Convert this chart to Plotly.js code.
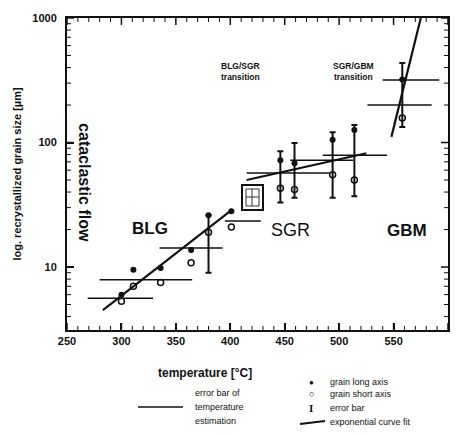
<!DOCTYPE html>
<html><head><meta charset="utf-8">
<script src="https://cdn.plot.ly/plotly-3.0.1.min.js"></script>
<style>html,body{margin:0;padding:0;background:#fff}</style>
</head><body><div id="c"></div>
<script>
// samples: temperature (°C), grain long axis, grain short axis (µm)
const sampleT   = [300, 311, 336, 364, 380, 401, 446, 459, 494, 514, 558];
const longAxis  = [6.0, 9.5, 9.8, 13.7, 26, 28, 72, 68, 105, 126, 320];
const shortAxis = [5.3, 7.0, 7.5, 10.8, 19, 21, 43, 42, 55, 50, 157];

// grain-size error bars
const errT  = [380, 446, 459, 494, 514, 558];
const errLo = [9, 33, 36, 36, 37, 133];
const errHi = [26, 85, 99, 121, 138, 435];

// temperature estimation error bars
const tbT  = [299, 322, 364, 411, 453, 484, 514, 566, 555];
const tbV  = [5.6, 7.9, 14.2, 23.4, 57, 72, 79, 318, 200];
const tbLo = [269, 280, 335, 395, 415, 455, 485, 540, 526];
const tbHi = [329, 365, 393, 428, 491, 513, 544, 592, 585];

// exponential curve fit segments
const fitBLG_T = [283, 402], fitBLG_V = [4.5, 29];
const fitSGR_T = [415, 525], fitSGR_V = [50, 82];
const fitGBM_T = [548, 575], fitGBM_V = [111, 1000];

// tick labels
const xTicks = [250, 300, 350, 400, 450, 500, 550, 600];
const yTicks = [10, 100, 1000];

const traces = [
  {x: tbT, y: tbV, mode: 'markers', marker: {size: 1, color: 'rgba(0,0,0,0)'},
   error_x: {type: 'data', symmetric: false,
     array: tbHi.map((h, i) => h - tbT[i]), arrayminus: tbLo.map((l, i) => tbT[i] - l),
     width: 0, thickness: 1.5, color: '#111'}, hoverinfo: 'skip'},
  {x: errT, y: errLo, mode: 'markers', marker: {size: 1, color: 'rgba(0,0,0,0)'},
   error_y: {type: 'data', symmetric: false,
     array: errHi.map((h, i) => h - errLo[i]), arrayminus: errLo.map(() => 0),
     width: 3, thickness: 2, color: '#111'}, hoverinfo: 'skip'},
  {x: fitBLG_T, y: fitBLG_V, mode: 'lines', line: {color: '#111', width: 2.2}},
  {x: fitSGR_T, y: fitSGR_V, mode: 'lines', line: {color: '#111', width: 2.2}},
  {x: fitGBM_T, y: fitGBM_V, mode: 'lines', line: {color: '#111', width: 2.2}},
  {x: sampleT, y: longAxis, mode: 'markers', marker: {symbol: 'circle', size: 6, color: '#111'}},
  {x: sampleT, y: shortAxis, mode: 'markers',
   marker: {symbol: 'circle-open', size: 6, color: '#111', line: {width: 1.5, color: '#111'}}}
];

const F = 'Liberation Sans, Arial, sans-serif';
const px = (x) => (x - 67) / 381, py = (y) => (330 - y) / 312;

const ann = [
  {x: 326, y: 1.313, text: '<b>BLG</b>', font: {size: 17}},
  {x: 455, y: 1.297, text: 'SGR', font: {size: 18}},
  {x: 562, y: 1.297, text: '<b>GBM</b>', font: {size: 17}},
  {x: 409, y: 2.574, text: '<b>BLG/SGR<br>transition</b>', font: {size: 8.5}},
  {x: 513, y: 2.574, text: '<b>SGR/GBM<br>transition</b>', font: {size: 8.5}},
  {x: 265.5, y: 1.675, text: '<b>cataclastic flow</b>', textangle: 90, font: {size: 16}},
  {xref: 'paper', yref: 'paper', x: px(205), y: py(373), text: '<b>temperature [°C]</b>', font: {size: 12}},
  {xref: 'paper', yref: 'paper', x: px(193), y: py(393), xanchor: 'left', text: 'error bar of', font: {size: 9}},
  {xref: 'paper', yref: 'paper', x: px(193), y: py(407), xanchor: 'left', text: 'temperature', font: {size: 9}},
  {xref: 'paper', yref: 'paper', x: px(193), y: py(421), xanchor: 'left', text: 'estimation', font: {size: 9}},
  {xref: 'paper', yref: 'paper', x: px(311), y: py(382), text: '●', font: {size: 8}},
  {xref: 'paper', yref: 'paper', x: px(311), y: py(394), text: '○', font: {size: 9}},
  {xref: 'paper', yref: 'paper', x: px(311), y: py(408), text: '<b>I</b>', font: {size: 11, family: 'Liberation Serif, serif'}},
  {xref: 'paper', yref: 'paper', x: px(328), y: py(382), xanchor: 'left', text: 'grain long axis', font: {size: 9}},
  {xref: 'paper', yref: 'paper', x: px(328), y: py(394), xanchor: 'left', text: 'grain short axis', font: {size: 9}},
  {xref: 'paper', yref: 'paper', x: px(328), y: py(408), xanchor: 'left', text: 'error bar', font: {size: 9}},
  {xref: 'paper', yref: 'paper', x: px(328), y: py(422), xanchor: 'left', text: 'exponential curve fit', font: {size: 9}}
].map(a => Object.assign({showarrow: false, xanchor: 'center', yanchor: 'middle'}, a,
      {font: Object.assign({family: F, color: '#111'}, a.font)}));

const shapes = [
  {type: 'line', xref: 'paper', yref: 'paper', x0: px(138), x1: px(183), y0: py(407), y1: py(407), line: {color: '#111', width: 1.5}},
  {type: 'line', xref: 'paper', yref: 'paper', x0: px(300), x1: px(325), y0: py(424), y1: py(421), line: {color: '#111', width: 2}},
  {type: 'rect', xref: 'paper', yref: 'paper', x0: px(242), x1: px(263), y0: py(210), y1: py(185), line: {color: '#111', width: 2}},
  {type: 'rect', xref: 'paper', yref: 'paper', x0: px(246), x1: px(259), y0: py(206), y1: py(189), line: {color: '#333', width: 1}},
  {type: 'line', xref: 'paper', yref: 'paper', x0: px(246), x1: px(259), y0: py(197), y1: py(197), line: {color: '#333', width: 1}},
  {type: 'line', xref: 'paper', yref: 'paper', x0: px(252), x1: px(252), y0: py(189), y1: py(206), line: {color: '#333', width: 1}}
];

// axis tick marks (inside, all four sides) placed through the axes' own scales
function xTick(v, len, w) {
  return [
    {type: 'line', xref: 'x', yref: 'paper', ysizemode: 'pixel', yanchor: 0, x0: v, x1: v, y0: 0, y1: len, line: {color: '#111', width: w}},
    {type: 'line', xref: 'x', yref: 'paper', ysizemode: 'pixel', yanchor: 1, x0: v, x1: v, y0: 0, y1: -len, line: {color: '#111', width: w}}
  ];
}
function yTick(v, len, w) {
  return [
    {type: 'line', xref: 'paper', yref: 'y', xsizemode: 'pixel', xanchor: 0, y0: v, y1: v, x0: 0, x1: len, line: {color: '#111', width: w}},
    {type: 'line', xref: 'paper', yref: 'y', xsizemode: 'pixel', xanchor: 1, y0: v, y1: v, x0: 0, x1: -len, line: {color: '#111', width: w}}
  ];
}
for (let v = xTicks[0]; v <= xTicks[xTicks.length - 1]; v += 10) {
  shapes.push(...xTick(v, xTicks.includes(v) ? 7 : 4, xTicks.includes(v) ? 1.5 : 1));
}
[1, 10, 100].forEach(dec => {
  for (let m = 2; m <= 9; m++) if (m * dec >= 3.2) shapes.push(...yTick(m * dec, 4, 1));
});
yTicks.forEach(v => shapes.push(...yTick(v, 7, 1.5)));

const layout = {
  width: 457, height: 434,
  margin: {l: 67, r: 9, t: 18, b: 104},
  showlegend: false,
  font: {family: F, color: '#111', size: 11},
  xaxis: {range: [250, 600], tickvals: xTicks, ticktext: xTicks.map(String),
    ticks: 'inside', ticklen: 7, tickwidth: 1.5, tickcolor: '#111',
    showline: true, linewidth: 2, linecolor: '#111', mirror: true,
    showgrid: false, zeroline: false, tickfont: {size: 11, weight: 'bold'}},
  yaxis: {type: 'log', range: [Math.log10(3.12), 3], tickvals: yTicks, ticktext: yTicks.map(String),
    ticks: 'inside', ticklen: 7, tickwidth: 1.5, tickcolor: '#111',
    showline: true, linewidth: 2, linecolor: '#111', mirror: true,
    showgrid: false, zeroline: false, ticklabelstandoff: 6,
    tickfont: {size: 11, weight: 'bold'},
    title: {text: '<b>log. recrystallized grain size [µm]</b>', font: {size: 11}, standoff: 8}},
  annotations: ann, shapes: shapes
};

Plotly.newPlot('c', traces, layout, {displayModeBar: false});
</script></body></html>
